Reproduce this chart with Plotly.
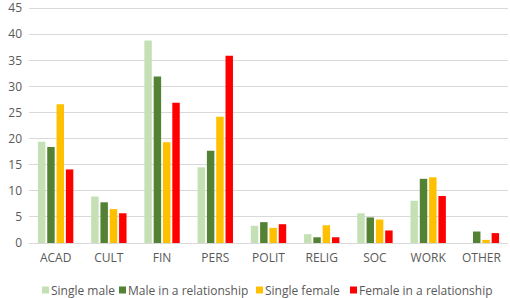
import plotly.graph_objects as go

categories = ["ACAD", "CULT", "FIN", "PERS", "POLIT", "RELIG", "SOC", "WORK", "OTHER"]
single_male = [19.4, 8.9, 38.8, 14.5, 3.3, 1.7, 5.7, 8.1, 0]
male_rel = [18.4, 7.8, 31.9, 17.7, 4.0, 1.1, 4.9, 12.3, 2.2]
single_female = [26.6, 6.5, 19.3, 24.2, 2.9, 3.4, 4.5, 12.6, 0.6]
female_rel = [14.1, 5.7, 26.9, 35.9, 3.6, 1.1, 2.4, 9.0, 1.9]

series_names = ["Single male", "Male in a relationship", "Single female", "Female in a relationship"]
series_values = [single_male, male_rel, single_female, female_rel]
series_colors = ["#C5E0B4", "#548235", "#FFC000", "#FF0000"]

W, H = 510, 298
ML, MR, MT, MB = 29, 2, 4, 55
PW, PH = W - ML - MR, H - MT - MB

fig = go.Figure()
for name, vals, col in zip(series_names, series_values, series_colors):
    fig.add_trace(go.Bar(x=categories, y=vals, name=name, marker_color=col,
                         marker_line_width=0, showlegend=False))

# Custom legend (Excel-style compact legend)
legend_px = [42, 119, 256, 350]
def px2x(px):
    return (px - ML) / PW
def py2y(py):
    return (H - MB - py) / PH

shapes = []
annotations = []
ly = 290
for px, name, col in zip(legend_px, series_names, series_colors):
    shapes.append(dict(type="rect", xref="paper", yref="paper",
                       x0=px2x(px), x1=px2x(px + 7), y0=py2y(ly + 3.5), y1=py2y(ly - 3.5),
                       fillcolor=col, line=dict(width=0)))
    annotations.append(dict(text=name, xref="paper", yref="paper",
                            x=px2x(px + 7), y=py2y(ly), xanchor="left", yanchor="middle",
                            showarrow=False,
                            font=dict(family="Open Sans, DejaVu Sans, sans-serif",
                                      size=12, color="#595959")))

font = dict(family="Open Sans, DejaVu Sans, sans-serif", size=12, color="#595959")
fig.update_layout(
    width=W, height=H,
    margin=dict(l=ML, r=MR, t=MT, b=MB),
    paper_bgcolor="white", plot_bgcolor="white",
    barmode="group", bargap=0.3, bargroupgap=0.2,
    font=font,
    showlegend=False,
    shapes=shapes,
    annotations=annotations,
    xaxis=dict(showgrid=False, showline=True, linecolor="#D9D9D9", linewidth=1,
               ticks="", automargin=False, ticklabelstandoff=4,
               tickfont=dict(size=12, color="#595959")),
    yaxis=dict(range=[0, 45.8], tickmode="linear", tick0=0, dtick=5,
               showgrid=True, gridcolor="#D9D9D9",
               gridwidth=1, zeroline=False, showline=False, automargin=False,
               ticklabeloverflow="allow",
               tickfont=dict(size=12, color="#595959"), ticklabelstandoff=6),
)

fig.write_html("out.html", config={"displayModeBar": False},
               post_script="document.body.style.margin='0';document.body.style.overflow='hidden';")
